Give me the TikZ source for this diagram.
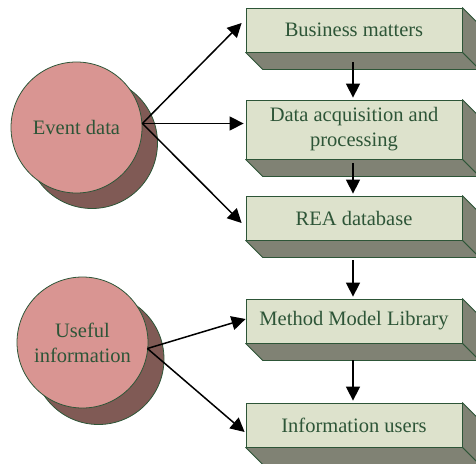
\documentclass[tikz,border=0pt]{standalone}
\usepackage{fontspec}
\setmainfont{Liberation Serif}
\usetikzlibrary{arrows.meta,calc}
\definecolor{leaf}{RGB}{45,85,55}
\definecolor{rose}{RGB}{217,149,146}
\definecolor{cocoa}{RGB}{128,90,85}
\definecolor{sage}{RGB}{221,226,204}
\definecolor{slate}{RGB}{128,130,116}

\tikzset{
  blob/.style={circle,draw=leaf,line width=0.8pt,fill=rose,minimum size=131pt,
    inner sep=0pt,text=leaf,align=center,font=\fontsize{20.5}{25}\selectfont},
  blobshade/.style={circle,draw=leaf,line width=0.8pt,fill=cocoa,minimum size=131pt,inner sep=0pt},
  block/.style={draw=leaf,line width=0.8pt,fill=sage,minimum width=216pt,minimum height=44pt,
    inner sep=0pt,text=leaf,align=center,font=\fontsize{20.5}{25}\selectfont},
  side/.style={draw=leaf,line width=0.8pt,fill=slate,line join=round},
  flow/.style={line width=1.5pt,-{Triangle[length=14pt,width=14pt]}}
}

\begin{document}
\begin{tikzpicture}[x=1pt,y=-1pt]
        \useasboundingbox (0,0) rectangle (476,463);
        \clip (0,0) rectangle (476,463);
        % boxes
        \node[block] (bm) at (354,30) {Business matters};
        \node[block,minimum height=59pt] (daq) at (354,129.5) {Data acquisition and\\processing};
        \node[block] (rea) at (354,218) {REA database};
        \node[block] (mml) at (354,321) {Method Model Library};
        \node[block] (iu) at (354,425) {Information users};
        \foreach \b in {bm,daq,rea,mml,iu} {
          \filldraw[side] (\b.north east) -- ++(17,17) -- ($(\b.south east)+(17,17)$) -- (\b.south east) -- cycle;
          \filldraw[side] (\b.south west) -- (\b.south east) -- ++(17,17) -- ($(\b.south west)+(17,17)$) -- cycle;
        }
        % circles
        \node[blobshade] (evs) at (92,143) {};
        \node[blob] (ev) at (76.5,127.5) {Event data};
        \node[blobshade] (uis) at (98.5,359) {};
        \node[blob] (ui) at (82.5,342.5) {Useful\\information};
        \coordinate (evout) at ($(ev.east)+(0,-4)$);
        \coordinate (uiout) at ($(ui.east)+(-1,6)$);
        % arrows
        \draw[flow] (evout) -- ($(bm.west)+(-4,-7)$);
        \draw[flow] (evout) -- ($(daq.west)+(-2,-6)$);
        \draw[flow] (evout) -- ($(rea.west)+(-4,5)$);
        \draw[flow] (uiout) -- ($(mml.west)+(0,-2)$);
        \draw[flow] (uiout) -- ($(iu.west)+(-1,7)$);
        \draw[flow] ($(bm.south)+(-1,10)$) -- ($(daq.north)+(-1,-2)$);
        \draw[flow] ($(daq.south)+(-1,4)$) -- ($(rea.north)+(-1,-2)$);
        \draw[flow] ($(rea.south)+(-1,20)$) -- ($(mml.north)+(-1,-2)$);
        \draw[flow] ($(mml.south)+(-1,17)$) -- ($(iu.north)+(-1,-2)$);
      \end{tikzpicture}
\end{document}
